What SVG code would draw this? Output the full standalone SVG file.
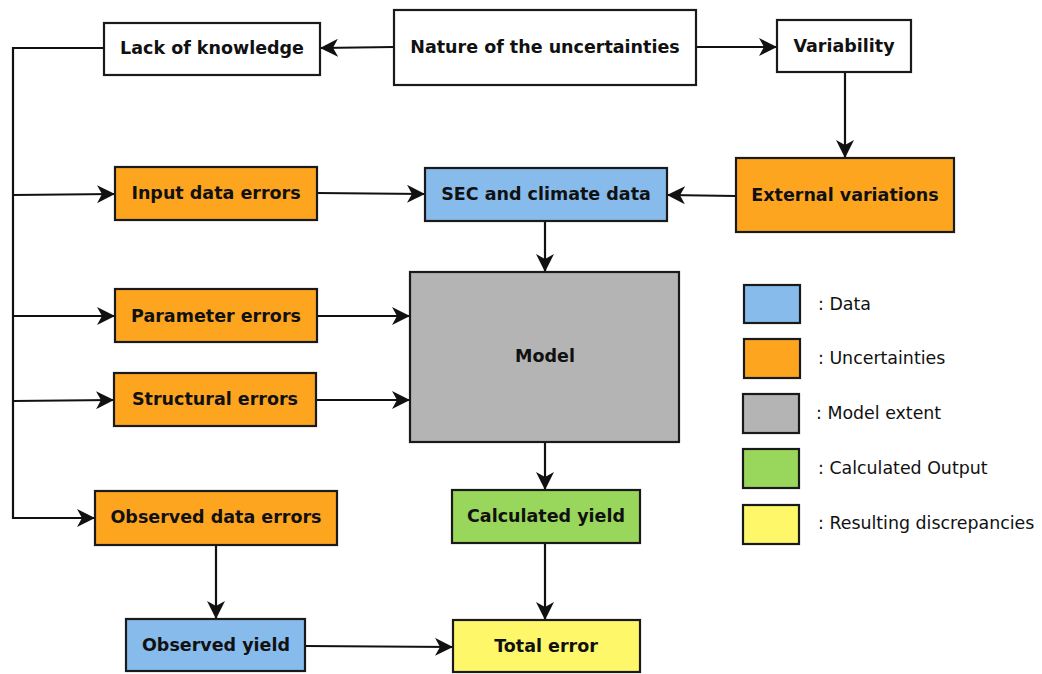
<svg xmlns="http://www.w3.org/2000/svg" width="1042" height="674" viewBox="0 0 1042 674">
<style>
.b{stroke:#1a1a1a;stroke-width:2.2}
.w{fill:#ffffff}.o{fill:#fea520}.bl{fill:#86bbec}.g{fill:#b4b4b4}.gr{fill:#99d65c}.y{fill:#fef76a}
.t{font-family:"DejaVu Sans",Verdana,sans-serif;font-weight:bold;font-size:17.5px;fill:#111;text-anchor:middle}
.l{font-family:"DejaVu Sans",Verdana,sans-serif;font-size:17.4px;fill:#111}
.c{fill:none;stroke:#111;stroke-width:2.2}
</style>
<defs>
<marker id="a" viewBox="0 0 18 18" refX="17" refY="9" markerWidth="18" markerHeight="18" markerUnits="userSpaceOnUse" orient="auto">
<path d="M0,0 L18,9 L0,18 L5,9 Z" fill="#111"/>
</marker>
</defs>
<g id="connectors">
<line class="c" x1="394" y1="47" x2="321" y2="48" marker-end="url(#a)"/>
<line class="c" x1="696" y1="47" x2="776" y2="47" marker-end="url(#a)"/>
<line class="c" x1="845" y1="72" x2="845" y2="157" marker-end="url(#a)"/>
<line class="c" x1="736" y1="196" x2="668" y2="195" marker-end="url(#a)"/>
<line class="c" x1="317" y1="193" x2="424" y2="194" marker-end="url(#a)"/>
<line class="c" x1="545" y1="221" x2="545" y2="271" marker-end="url(#a)"/>
<line class="c" x1="317" y1="316" x2="409" y2="316" marker-end="url(#a)"/>
<line class="c" x1="316" y1="400" x2="409" y2="400" marker-end="url(#a)"/>
<line class="c" x1="545" y1="442" x2="545" y2="489" marker-end="url(#a)"/>
<line class="c" x1="545" y1="543" x2="545" y2="619" marker-end="url(#a)"/>
<line class="c" x1="216" y1="545" x2="216" y2="618" marker-end="url(#a)"/>
<line class="c" x1="305" y1="646" x2="452" y2="647" marker-end="url(#a)"/>
<polyline class="c" points="104,48 13,48 13,518 94,518" marker-end="url(#a)"/>
<line class="c" x1="13" y1="195" x2="114" y2="194" marker-end="url(#a)"/>
<line class="c" x1="13" y1="316" x2="114" y2="316" marker-end="url(#a)"/>
<line class="c" x1="13" y1="401" x2="113" y2="400" marker-end="url(#a)"/>
</g>
<g id="lack"><rect class="b w" x="104" y="23" width="216" height="52"/><text class="t" x="212" y="54">Lack of knowledge</text></g>
<g id="nature"><rect class="b w" x="394" y="10" width="302" height="75"/><text class="t" x="545" y="53">Nature of the uncertainties</text></g>
<g id="variability"><rect class="b w" x="777" y="20" width="134" height="52"/><text class="t" x="844" y="52">Variability</text></g>
<g id="external"><rect class="b o" x="736" y="158" width="218" height="74"/><text class="t" x="845" y="201">External variations</text></g>
<g id="sec"><rect class="b bl" x="425" y="168" width="242" height="53"/><text class="t" x="546" y="200">SEC and climate data</text></g>
<g id="input"><rect class="b o" x="115" y="167" width="202" height="53"/><text class="t" x="216" y="199">Input data errors</text></g>
<g id="parameter"><rect class="b o" x="115" y="289" width="202" height="53"/><text class="t" x="216" y="322">Parameter errors</text></g>
<g id="structural"><rect class="b o" x="114" y="373" width="202" height="53"/><text class="t" x="215" y="405">Structural errors</text></g>
<g id="model"><rect class="b g" x="410" y="272" width="269" height="170"/><text class="t" x="545" y="362">Model</text></g>
<g id="observed-errors"><rect class="b o" x="95" y="491" width="242" height="54"/><text class="t" x="216" y="523">Observed data errors</text></g>
<g id="calculated"><rect class="b gr" x="452" y="490" width="188" height="53"/><text class="t" x="546" y="522">Calculated yield</text></g>
<g id="observed-yield"><rect class="b bl" x="126" y="619" width="179" height="52"/><text class="t" x="216" y="651">Observed yield</text></g>
<g id="total"><rect class="b y" x="453" y="620" width="187" height="52"/><text class="t" x="546" y="652">Total error</text></g>
<g id="legend">
<rect class="b bl" x="744" y="285" width="56" height="38"/><text class="l" x="818" y="310">: Data</text>
<rect class="b o" x="744" y="339" width="56" height="39"/><text class="l" x="818" y="364">: Uncertainties</text>
<rect class="b g" x="743" y="394" width="56" height="39"/><text class="l" x="816" y="419">: Model extent</text>
<rect class="b gr" x="743" y="449" width="56" height="39"/><text class="l" x="818" y="474">: Calculated Output</text>
<rect class="b y" x="743" y="505" width="56" height="39"/><text class="l" x="818" y="529">: Resulting discrepancies</text>
</g>
</svg>
